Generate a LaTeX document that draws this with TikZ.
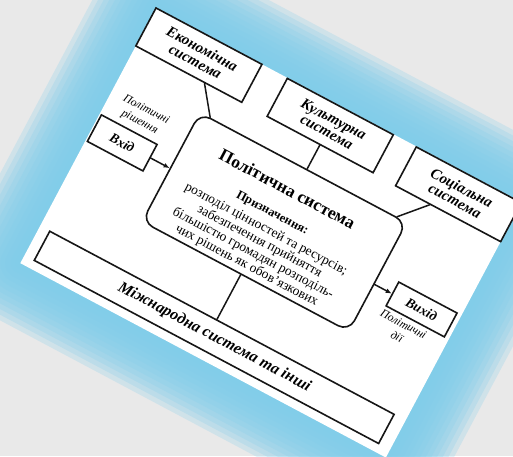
\documentclass[tikz,border=0pt]{standalone}
\usepackage{fontspec}
\setmainfont{Liberation Serif}
\usetikzlibrary{arrows.meta,calc}
\definecolor{bg}{RGB}{233,233,233}
\definecolor{glow}{RGB}{128,205,234}
\definecolor{ink}{RGB}{22,22,22}
\begin{document}
\begin{tikzpicture}[x=1pt,y=1pt,
  sysbox/.style={draw=ink, line width=1.6pt, inner sep=0pt, align=center,
    font=\bfseries\itshape\fontsize{15}{14.5}\selectfont},
  iobox/.style={draw=ink, line width=1.6pt, inner sep=0pt, align=center,
    font=\bfseries\itshape\fontsize{13.5}{13.5}\selectfont},
  polbox/.style={draw=ink, line width=1.6pt, rounded corners=12pt, inner sep=0pt},
  note/.style={inner sep=0pt, align=center, font=\itshape\fontsize{11.5}{14}\selectfont},
  link/.style={draw=ink, line width=1.5pt, line cap=round},
  flow/.style={link, -{Latex[length=6pt,width=5pt]}}
]
\fill[bg] (0,0) rectangle (513,456);
\useasboundingbox (0,0) rectangle (513,456);
\begin{scope}[shift={(156,448)}, rotate=-28, every node/.append style={transform shape}]
  % blue glow round the page
  \foreach \w in {120,110,...,10}
    \draw[glow, line width=\w pt, opacity=0.24, line join=round] (0,0) rectangle (414,-289);
  \fill[white] (0,0) rectangle (414,-289);

  % surrounding systems
  \node[sysbox, minimum width=120pt, minimum height=43pt] (econ) at (60,-21.5) {Економічна\\система};
  \node[sysbox, minimum width=120pt, minimum height=43pt] (kult) at (209,-22) {Культурна\\система};
  \node[sysbox, minimum width=119pt, minimum height=44pt] (soc) at (354.5,-22.5) {Соціальна\\система};
  \node[sysbox, minimum width=390pt, minimum height=33pt, font=\bfseries\itshape\fontsize{16}{16}\selectfont] (intl) at (206,-263.5) {Міжнародна система та інші};

  % political system
  \node[polbox, minimum width=234pt, minimum height=123pt] (polit) at (205,-133.5) {};
  \node[inner sep=0pt, font=\bfseries\fontsize{17.5}{17.5}\selectfont] (title) at (201,-98) {Політична система};
  \node[inner sep=0pt, font=\bfseries\fontsize{12.5}{12.5}\selectfont] (purp) at (199,-127) {Призначення:};
  \node[inner sep=0pt, align=center, font=\fontsize{13.5}{13.7}\selectfont] (body) at (201,-164.5)
    {розподіл цінностей та ресурсів;\\забезпечення прийняття\\більшістю громадян розподіль-\\чих рішень як обов’язкових};

  % input and output
  \node[iobox, minimum width=63pt, minimum height=30pt] (in) at (33.5,-135) {Вхід};
  \node[note] (inlab) at (39,-101.5) {Політичні\\рішення};
  \node[iobox, minimum width=66pt, minimum height=27pt] (out) at (376,-141.5) {Вихід};
  \node[note] (outlab) at (367,-170) {Політичні\\дії};

  % connectors
  \draw[link] ($(econ.south west)!0.65!(econ.south east)$) -- ($(polit.north west)+(12,0)$);
  \draw[link] (kult.south) -- (kult.south |- polit.north);
  \draw[link] ($(soc.south west)!0.33!(soc.south east)$) -- ($(polit.north east)+(-12,0)$);
  \draw[link] ($(polit.south)+(-5,0)$) -- ($(polit.south |- intl.north)+(-5,0)$);
  \draw[flow] (in.east) -- (in.east -| polit.west);
  \draw[flow] (out.west -| polit.east) -- (out.west);
\end{scope}
\end{tikzpicture}
\end{document}
